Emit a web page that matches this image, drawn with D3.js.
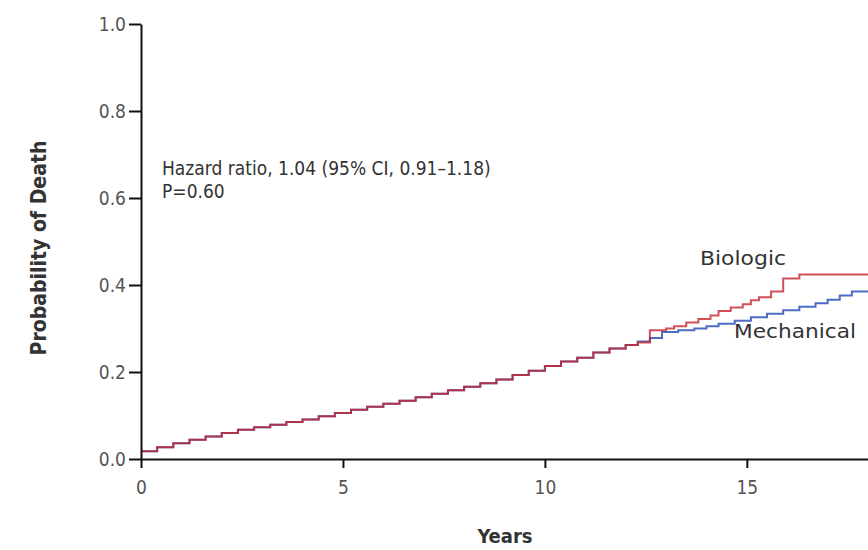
<!DOCTYPE html>
<html>
<head>
<meta charset="utf-8">
<script src="https://cdn.jsdelivr.net/npm/d3@7"></script>
<style>
  body { margin: 0; background: #fff; }
  svg { display: block; }
  text { font-family: "Liberation Sans Narrow", "Arial Narrow", "DejaVu Sans Condensed", sans-serif; }
</style>
</head>
<body>
<div class="container"></div>
<script>
const width = 868, height = 550;

const yTicks = [0, 0.2, 0.4, 0.6, 0.8, 1.0];
const xTicks = [0, 5, 10, 15];

// [years, probability of death] step points
const biologic = [
  [0, 0.018], [0.4, 0.027], [0.8, 0.036], [1.2, 0.044], [1.6, 0.052], [2.0, 0.060],
  [2.4, 0.067], [2.8, 0.073], [3.2, 0.079], [3.6, 0.085], [4.0, 0.091], [4.4, 0.098],
  [4.8, 0.106], [5.2, 0.113], [5.6, 0.120], [6.0, 0.127], [6.4, 0.134], [6.8, 0.142],
  [7.2, 0.150], [7.6, 0.158], [8.0, 0.166], [8.4, 0.174], [8.8, 0.183], [9.2, 0.193],
  [9.6, 0.203], [10.0, 0.214], [10.4, 0.224], [10.8, 0.233], [11.2, 0.245], [11.6, 0.254],
  [12.0, 0.262], [12.3, 0.268], [12.6, 0.296], [13.0, 0.300], [13.2, 0.305], [13.5, 0.314],
  [13.8, 0.322], [14.1, 0.330], [14.3, 0.340], [14.6, 0.348], [14.9, 0.356], [15.1, 0.365],
  [15.3, 0.372], [15.6, 0.385], [15.9, 0.415], [16.3, 0.424], [18.5, 0.424]
];

const mechanical = [
  [0, 0.018], [0.4, 0.027], [0.8, 0.036], [1.2, 0.044], [1.6, 0.052], [2.0, 0.060],
  [2.4, 0.067], [2.8, 0.073], [3.2, 0.079], [3.6, 0.085], [4.0, 0.091], [4.4, 0.098],
  [4.8, 0.106], [5.2, 0.113], [5.6, 0.120], [6.0, 0.127], [6.4, 0.134], [6.8, 0.142],
  [7.2, 0.150], [7.6, 0.158], [8.0, 0.166], [8.4, 0.174], [8.8, 0.183], [9.2, 0.193],
  [9.6, 0.203], [10.0, 0.214], [10.4, 0.224], [10.8, 0.233], [11.2, 0.245], [11.6, 0.254],
  [12.0, 0.262], [12.3, 0.270], [12.6, 0.278], [12.9, 0.292], [13.3, 0.296], [13.7, 0.300],
  [14.0, 0.305], [14.3, 0.311], [14.7, 0.318], [15.1, 0.326], [15.5, 0.334], [15.9, 0.342],
  [16.3, 0.350], [16.7, 0.358], [17.0, 0.366], [17.3, 0.376], [17.6, 0.385], [18.5, 0.385]
];

const x = d3.scaleLinear().domain([0, 18]).range([141, 868]);
const y = d3.scaleLinear().domain([0, 1]).range([459, 24]);

const svg = d3.select(".container")
  .append("svg")
  .attr("width", width)
  .attr("height", height);

svg.append("defs").append("clipPath")
  .attr("id", "plot")
  .append("rect")
  .attr("x", 141).attr("y", 0)
  .attr("width", 727).attr("height", 460);

const line = d3.line()
  .x(d => x(d[0]))
  .y(d => y(d[1]))
  .curve(d3.curveStepAfter);

const curves = svg.append("g").attr("clip-path", "url(#plot)");

curves.append("path")
  .datum(mechanical)
  .attr("d", line)
  .attr("fill", "none")
  .attr("stroke", "#4e6cc4")
  .attr("stroke-width", 2);

curves.append("path")
  .datum(biologic)
  .attr("d", line)
  .attr("fill", "none")
  .attr("stroke", "#c4262c")
  .attr("stroke-width", 2)
  .attr("stroke-opacity", 0.8);

// x axis
const xAxis = svg.append("g")
  .attr("transform", `translate(0,${y(0)})`)
  .call(d3.axisBottom(x).tickValues(xTicks).tickSize(9).tickPadding(13).tickSizeOuter(0));
xAxis.select(".domain").attr("stroke", "#111").attr("stroke-width", 2);
xAxis.selectAll(".tick line").attr("stroke", "#111").attr("stroke-width", 2);
xAxis.selectAll(".tick text").attr("font-size", 19).attr("fill", "#555");

// y axis
const yAxis = svg.append("g")
  .attr("transform", `translate(${x(0)},0)`)
  .call(d3.axisLeft(y).tickValues(yTicks).tickFormat(d3.format(".1f")).tickSize(12).tickPadding(3).tickSizeOuter(0));
yAxis.select(".domain").attr("stroke", "#111").attr("stroke-width", 2);
yAxis.selectAll(".tick line").attr("stroke", "#111").attr("stroke-width", 2);
yAxis.selectAll(".tick text").attr("font-size", 19).attr("fill", "#555");

// axis titles
svg.append("text")
  .attr("transform", "translate(46,248) rotate(-90)")
  .attr("text-anchor", "middle")
  .attr("font-size", 21)
  .attr("font-weight", "bold")
  .attr("fill", "#333")
  .text("Probability of Death");

svg.append("text")
  .attr("x", 505)
  .attr("y", 543)
  .attr("text-anchor", "middle")
  .attr("font-size", 20)
  .attr("font-weight", "bold")
  .attr("fill", "#333")
  .text("Years");

// annotations
svg.append("text")
  .attr("x", 162).attr("y", 175)
  .attr("font-size", 19).attr("fill", "#333")
  .text("Hazard ratio, 1.04 (95% CI, 0.91\u20131.18)");
svg.append("text")
  .attr("x", 162).attr("y", 198)
  .attr("font-size", 19).attr("fill", "#333")
  .text("P=0.60");

svg.append("text")
  .attr("x", 700).attr("y", 265)
  .attr("font-size", 19).attr("fill", "#333")
  .attr("textLength", 86).attr("lengthAdjust", "spacingAndGlyphs")
  .text("Biologic");
svg.append("text")
  .attr("x", 734).attr("y", 338)
  .attr("font-size", 19).attr("fill", "#333")
  .attr("textLength", 122).attr("lengthAdjust", "spacingAndGlyphs")
  .text("Mechanical");
</script>
</body>
</html>
